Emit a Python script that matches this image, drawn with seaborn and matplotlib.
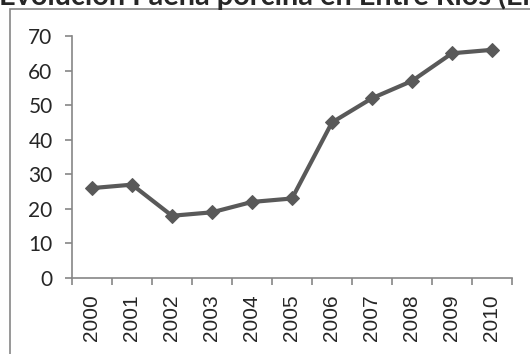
import seaborn as sns
import matplotlib.pyplot as plt
from matplotlib.patches import Rectangle

# data
years = [2000, 2001, 2002, 2003, 2004, 2005, 2006, 2007, 2008, 2009, 2010]
faena = [26, 27, 18, 19, 22, 23, 45, 52, 57, 65, 66]
y_ticks = [0, 10, 20, 30, 40, 50, 60, 70]
titulo = "Evolución Faena porcina en Entre Ríos (En miles de cabezas)"

sns.set_style("white")
plt.rcParams['font.family'] = ['Lato', 'DejaVu Sans']

W, H = 530, 354
fig = plt.figure(figsize=(W / 100, H / 100), dpi=100)
ax = fig.add_axes([72 / W, (H - 278) / H, (512 - 72) / W, (278 - 36) / H])

# chart area frame (runs past the right and bottom edge)
fig.patches.append(Rectangle((9.5 / W, -0.1), 1.2, (H - 9.5) / H + 0.1,
                             transform=fig.transFigure, fill=False,
                             edgecolor="#868686", linewidth=1.2))

sns.lineplot(x=years, y=faena, ax=ax, color="#595959", linewidth=3,
             marker="D", markersize=7, markeredgecolor="#595959")

ax.set_xlim(years[0] - 0.5, years[-1] + 0.5)
ax.set_ylim(0, 70)
ax.set_yticks(y_ticks)
ax.set_xticks([y - 0.5 for y in years] + [years[-1] + 0.5])
ax.set_xticklabels([])
ax.set_xticks(years, minor=True)
ax.set_xticklabels([str(y) for y in years], minor=True, rotation=90,
                   fontfamily="Liberation Sans", fontsize=15)
ax.tick_params(axis="x", which="major", length=5, width=1.2, color="#868686",
               direction="out", bottom=True)
ax.tick_params(axis="x", which="minor", length=0, pad=12)
ax.tick_params(axis="y", length=5, width=1.2, color="#868686", direction="out",
               left=True, labelsize=15, pad=9)

for s in ["top", "right"]:
    ax.spines[s].set_visible(False)
for s in ["left", "bottom"]:
    ax.spines[s].set_color("#868686")
    ax.spines[s].set_linewidth(1.2)

fig.text(-1 / W, 1 - 5 / H, titulo, fontsize=20.8, fontweight="bold",
         va="baseline", ha="left")

plt.savefig("out.png", dpi=100)
